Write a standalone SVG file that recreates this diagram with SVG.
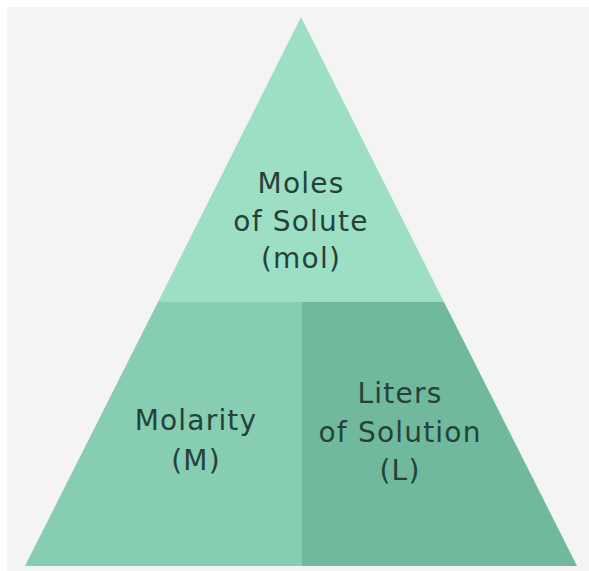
<svg xmlns="http://www.w3.org/2000/svg" width="589" height="571" viewBox="0 0 589 571">
<style>
text{font-family:"DejaVu Sans","Liberation Sans",sans-serif;font-size:28px;letter-spacing:1.2px;fill:#24423a;text-anchor:middle}
</style>
<rect x="0" y="0" width="589" height="571" fill="#ffffff"/>
<rect x="7" y="7" width="582" height="564" fill="#f4f4f4"/>
<g id="top">
<polygon points="301,17 444,302 158,302" fill="#9ddfc4"/>
<text x="301" y="193">Moles</text>
<text x="301" y="231">of Solute</text>
<text x="301" y="268">(mol)</text>
</g>
<g id="left">
<polygon points="158,302 302,302 302,566 25,566" fill="#86cdb2"/>
<text x="196" y="430">Molarity</text>
<text x="196" y="470">(M)</text>
</g>
<g id="right">
<polygon points="302,302 444,302 577,566 302,566" fill="#70b99d"/>
<text x="400" y="403">Liters</text>
<text x="400" y="442">of Solution</text>
<text x="400" y="480">(L)</text>
</g>
<g id="connectors"/>
</svg>
